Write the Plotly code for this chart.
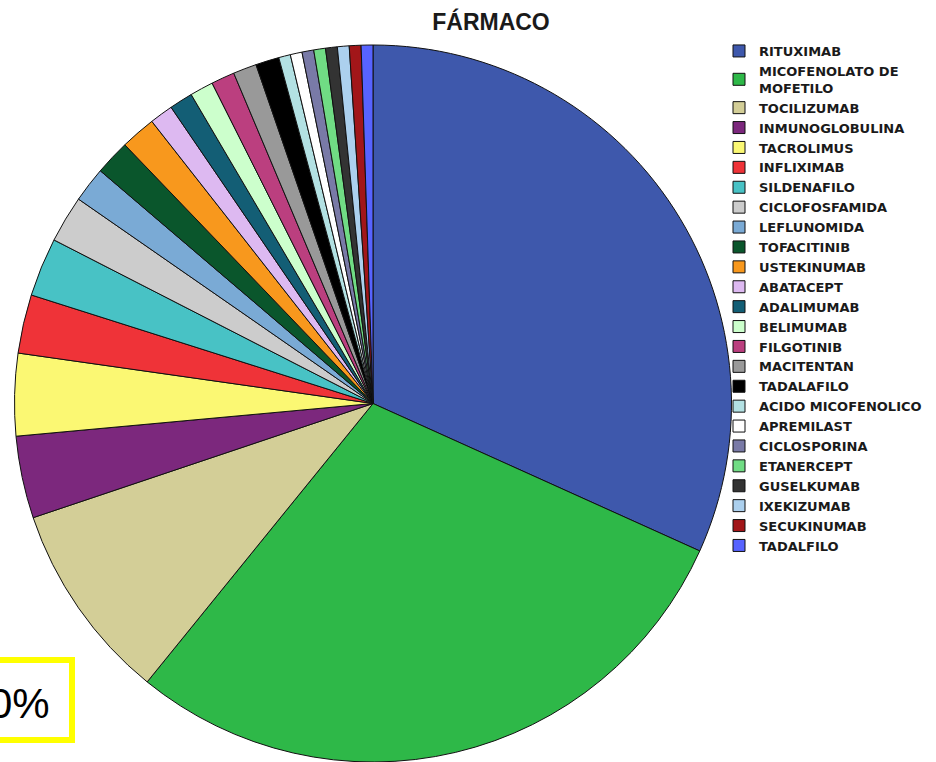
import plotly.graph_objects as go

farmacos = [
    "RITUXIMAB", "MICOFENOLATO DE<br>MOFETILO", "TOCILIZUMAB", "INMUNOGLOBULINA",
    "TACROLIMUS", "INFLIXIMAB", "SILDENAFILO", "CICLOFOSFAMIDA", "LEFLUNOMIDA",
    "TOFACITINIB", "USTEKINUMAB", "ABATACEPT", "ADALIMUMAB", "BELIMUMAB",
    "FILGOTINIB", "MACITENTAN", "TADALAFILO", "ACIDO MICOFENOLICO", "APREMILAST",
    "CICLOSPORINA", "ETANERCEPT", "GUSELKUMAB", "IXEKIZUMAB", "SECUKINUMAB", "TADALFILO",
]
pacientes = [60, 55, 17, 7, 7, 5, 5, 4, 3, 3, 3, 2, 2, 2, 2, 2, 2, 1, 1, 1, 1, 1, 1, 1, 1]
colores = [
    "#3E58AC", "#2EB848", "#D3CE97", "#7C287D", "#FBF873", "#EF3338", "#48C2C5",
    "#CCCCCC", "#7AAAD5", "#0A562C", "#F8981D", "#DDB9F1", "#135E75", "#CCFFCC",
    "#BB3F7F", "#999999", "#000000", "#B3E1E3", "#FFFFFF", "#797AA7", "#70DC84",
    "#333333", "#ACD0EE", "#A21619", "#5763FF",
]

W, H = 936, 762
cx, cy, r = 373, 405, 360

fig = go.Figure(go.Pie(
    labels=farmacos,
    values=pacientes,
    sort=False,
    direction="clockwise",
    rotation=0,
    textinfo="none",
    hoverinfo="label+value+percent",
    marker=dict(colors=colores, line=dict(color="#111111", width=1)),
    domain=dict(x=[(cx - r) / W, (cx + r) / W], y=[0, (H - cy + r) / H]),
))

fig.update_layout(
    width=W, height=H,
    margin=dict(l=0, r=0, t=0, b=0),
    paper_bgcolor="white",
    plot_bgcolor="white",
    title=dict(text="<b>FÁRMACO</b>", x=491 / W, xanchor="center",
               y=1 - 22 / H, yanchor="middle",
               font=dict(family="Liberation Sans", size=23, color="#1a1a1a")),
    legend=dict(
        x=719 / W, xanchor="left", y=1 - 36 / H, yanchor="top",
        font=dict(family="DejaVu Sans", size=13, color="#1a1a1a", weight="bold"),
        itemwidth=30,
        bgcolor="rgba(0,0,0,0)",
        tracegroupgap=0,
    ),
    shapes=[dict(type="rect", xref="paper", yref="paper",
                 x0=-20 / W, x1=72 / W, y0=1 - 740 / H, y1=1 - 660 / H,
                 line=dict(color="#FFFF00", width=6), fillcolor="rgba(0,0,0,0)")],
    annotations=[dict(text="0%", xref="paper", yref="paper",
                      x=52 / W, xanchor="right", y=1 - 703 / H, yanchor="middle",
                      showarrow=False,
                      font=dict(family="Liberation Sans", size=42, color="black"))],
)

fig.write_html("out.html")
